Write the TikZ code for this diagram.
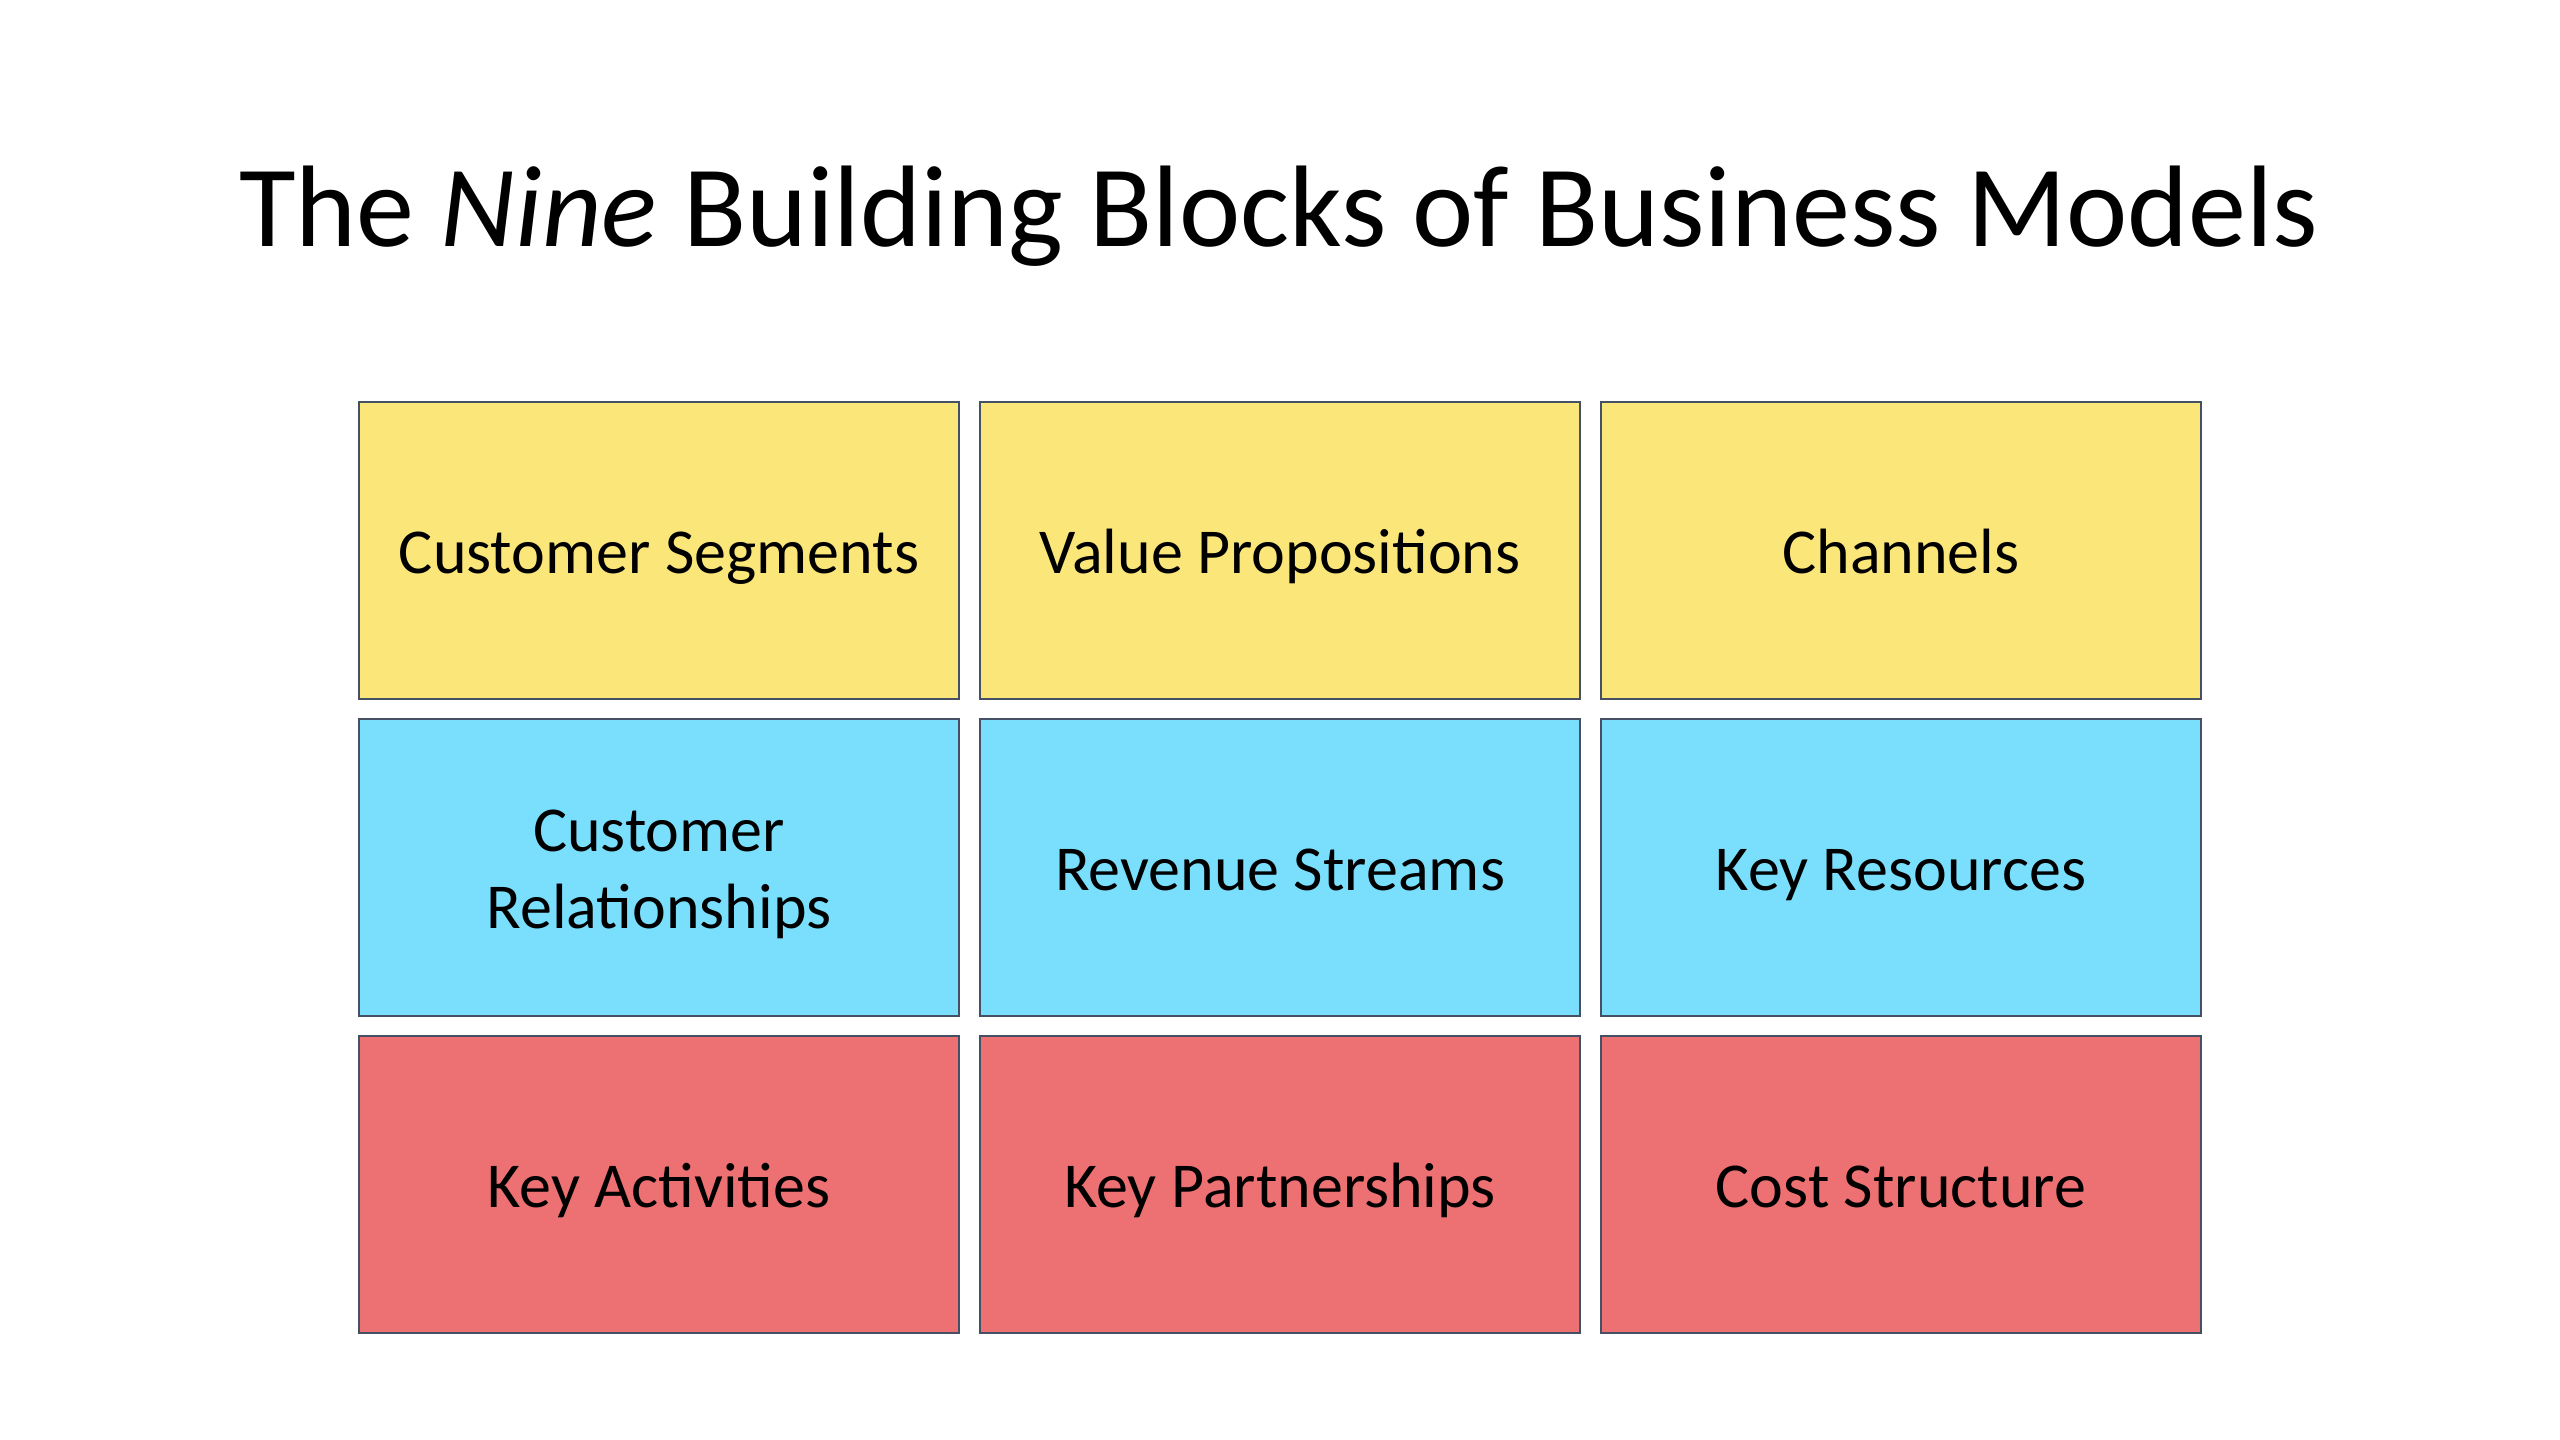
\documentclass[tikz,border=0pt]{standalone}
\usepackage{fontspec}
\setmainfont{Carlito}
\usetikzlibrary{positioning}

\definecolor{blockyellow}{RGB}{251,230,122}
\definecolor{blockblue}{RGB}{122,223,253}
\definecolor{blockred}{RGB}{237,112,114}
\definecolor{blockline}{RGB}{70,80,100}

\begin{document}
\begin{tikzpicture}[node distance=8.6pt and 9.1pt,
    block/.style={draw=blockline,line width=1.4pt,minimum width=300pt,minimum height=148.5pt,
                  align=center,inner sep=0pt,text height=30pt,text depth=7pt,
                  font=\fontsize{32}{38.5}\selectfont},
    yel/.style={block,fill=blockyellow},
    blu/.style={block,fill=blockblue},
    rd/.style={block,fill=blockred}]
    \useasboundingbox (0,0) rectangle (1280pt,720pt);
    \node[anchor=base] (title) at (639.5pt,596.5pt) {\fontsize{58}{70}\selectfont The \textit{Nine} Building Blocks of Business Models};
    % top row
    \node[yel] (seg) at (329.5pt,444.75pt) {Customer Segments};
    \node[yel,right=of seg] (val) {Value Propositions};
    \node[yel,right=of val] (chan) {Channels};
    % middle row
    \node[blu,text height=68.8pt,text depth=7.5pt,below=of seg] (rel) {Customer\\Relationships};
    \node[blu,right=of rel] (rev) {Revenue Streams};
    \node[blu,right=of rev] (res) {Key Resources};
    % bottom row
    \node[rd,below=of rel] (act) {Key Activities};
    \node[rd,right=of act] (part) {Key Partnerships};
    \node[rd,right=of part] (cost) {Cost Structure};
\end{tikzpicture}
\end{document}
